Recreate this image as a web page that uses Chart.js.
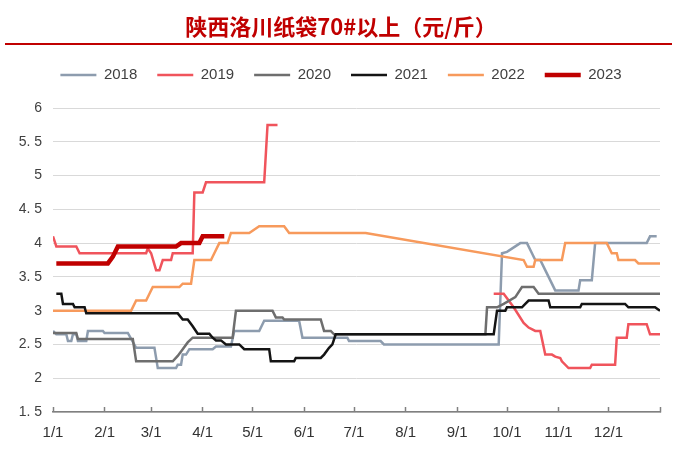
<!DOCTYPE html>
<html>
<head>
<meta charset="utf-8">
<script src="https://cdn.jsdelivr.net/npm/chart.js@4.4.0/dist/chart.umd.min.js"></script>
<style>
  html, body { margin: 0; padding: 0; background: #fff; }
</style>
</head>
<body>
<canvas id="priceChart" width="700" height="459"></canvas>
<script>
// x = day of year, y = 元/斤
const monthDays = [0, 31, 59, 90, 120, 151, 181, 212, 243, 273, 304, 334, 365];
const monthLabels = ["1/1", "2/1", "3/1", "4/1", "5/1", "6/1", "7/1", "8/1", "9/1", "10/1", "11/1", "12/1", ""];
const yTicks = [1.5, 2, 2.5, 3, 3.5, 4, 4.5, 5, 5.5, 6];

const days2018 = [0, 2, 8, 9, 11, 12, 14, 15, 20, 21, 30, 31, 45, 50, 61, 63, 74, 75, 77, 78, 80, 82, 96, 98, 107, 109, 124, 127, 148, 150, 177, 178, 197, 199, 268, 270, 273, 281, 285, 288, 290, 293, 296, 298, 302, 316, 317, 324, 326, 357, 359, 363];
const vals2018 = [2.7, 2.65, 2.65, 2.55, 2.55, 2.65, 2.65, 2.55, 2.55, 2.7, 2.7, 2.67, 2.67, 2.45, 2.45, 2.15, 2.15, 2.2, 2.2, 2.35, 2.35, 2.43, 2.43, 2.47, 2.47, 2.7, 2.7, 2.85, 2.85, 2.6, 2.6, 2.55, 2.55, 2.5, 2.5, 3.85, 3.87, 4.0, 4.0, 3.85, 3.75, 3.75, 3.6, 3.5, 3.3, 3.3, 3.45, 3.45, 4.0, 4.0, 4.1, 4.1];

const days2019 = [0, 2, 14, 16, 56, 57, 59, 62, 64, 66, 71, 72, 84, 85, 90, 92, 127, 129, 135, 200, 265, 271, 277, 283, 286, 290, 293, 296, 300, 302, 305, 306, 310, 323, 324, 338, 339, 345, 346, 357, 359, 365];
const vals2019 = [4.1, 3.95, 3.95, 3.85, 3.85, 3.92, 3.85, 3.6, 3.6, 3.75, 3.75, 3.85, 3.85, 4.75, 4.75, 4.9, 4.9, 5.75, 5.75, null, 3.25, 3.25, 3.05, 2.82, 2.75, 2.7, 2.7, 2.35, 2.35, 2.32, 2.3, 2.25, 2.15, 2.15, 2.2, 2.2, 2.6, 2.6, 2.8, 2.8, 2.65, 2.65];

const days2020 = [0, 14, 15, 48, 50, 72, 75, 78, 81, 84, 108, 110, 132, 134, 138, 139, 161, 163, 167, 169, 260, 261, 267, 271, 278, 282, 289, 292, 365];
const vals2020 = [2.67, 2.67, 2.58, 2.58, 2.25, 2.25, 2.33, 2.43, 2.53, 2.6, 2.6, 3.0, 3.0, 2.9, 2.9, 2.87, 2.87, 2.7, 2.7, 2.65, 2.65, 3.05, 3.05, 3.1, 3.2, 3.35, 3.35, 3.25, 3.25];

const days2021 = [2, 5, 6, 12, 13, 19, 20, 75, 78, 81, 84, 87, 94, 96, 98, 101, 104, 112, 115, 130, 131, 145, 146, 161, 163, 166, 168, 170, 265, 267, 272, 273, 282, 284, 286, 298, 299, 317, 318, 344, 346, 362, 365];
const vals2021 = [3.25, 3.25, 3.1, 3.1, 3.05, 3.05, 2.96, 2.96, 2.87, 2.87, 2.77, 2.66, 2.66, 2.6, 2.56, 2.56, 2.5, 2.5, 2.43, 2.43, 2.25, 2.25, 2.3, 2.3, 2.35, 2.45, 2.5, 2.65, 2.65, 3.0, 3.0, 3.05, 3.05, 3.1, 3.15, 3.15, 3.05, 3.05, 3.1, 3.1, 3.05, 3.05, 3.0];

const days2022 = [0, 47, 50, 56, 58, 60, 76, 78, 83, 85, 95, 97, 100, 105, 107, 118, 124, 139, 142, 188, 283, 285, 289, 290, 306, 308, 333, 336, 339, 340, 350, 352, 365];
const vals2022 = [3.0, 3.0, 3.15, 3.15, 3.25, 3.35, 3.35, 3.4, 3.4, 3.75, 3.75, 3.85, 4.0, 4.0, 4.15, 4.15, 4.25, 4.25, 4.15, 4.15, 3.75, 3.65, 3.65, 3.75, 3.75, 4.0, 4.0, 3.85, 3.85, 3.75, 3.75, 3.7, 3.7];

const days2023 = [2, 33, 36, 39, 74, 77, 88, 90, 103];
const vals2023 = [3.7, 3.7, 3.8, 3.95, 3.95, 4.0, 4.0, 4.1, 4.1];

function toPoints(days, vals) {
  return days.map((d, i) => ({ x: d, y: vals[i] }));
}

function line(label, days, vals, color, width, order) {
  return {
    label: label,
    data: toPoints(days, vals),
    borderColor: color,
    backgroundColor: color,
    borderWidth: width,
    pointRadius: 0,
    tension: 0,
    fill: false,
    spanGaps: false,
    order: order
  };
}

// red rule under the title
const titleRule = {
  id: "titleRule",
  afterDraw(chart) {
    const ctx = chart.ctx;
    ctx.save();
    ctx.strokeStyle = "#C00000";
    ctx.lineWidth = 2;
    ctx.beginPath();
    ctx.moveTo(5, 44);
    ctx.lineTo(672, 44);
    ctx.stroke();
    ctx.restore();
  }
};

// legend block reaches down to the top of the plot
const legendGap = {
  id: "legendGap",
  beforeInit(chart) {
    const fit = chart.legend.fit;
    chart.legend.fit = function () {
      fit.call(this);
      this.height = 60.6;
    };
  }
};

const tickFont = { family: "'Liberation Sans', Arial, sans-serif", size: 14 };

new Chart(document.getElementById("priceChart"), {
  type: "line",
  data: {
    datasets: [
      line("2018", days2018, vals2018, "#8D9CAE", 2.5, 5),
      line("2019", days2019, vals2019, "#F0545C", 2.5, 4),
      line("2020", days2020, vals2020, "#6E6E6E", 2.5, 3),
      line("2021", days2021, vals2021, "#141414", 2.5, 1),
      line("2022", days2022, vals2022, "#F79A5C", 2.5, 2),
      line("2023", days2023, vals2023, "#C00000", 4.5, 0)
    ]
  },
  options: {
    responsive: false,
    animation: false,
    layout: { padding: { left: 0, right: 18, top: 0, bottom: 0 } },
    plugins: {
      title: {
        display: true,
        text: "陕西洛川纸袋70#以上（元/斤）",
        color: "#C00000",
        font: { family: "'Noto Sans CJK SC', sans-serif", size: 22, weight: "bold" },
        padding: { top: 13, bottom: 8 }
      },
      legend: {
        position: "top",
        labels: {
          usePointStyle: true,
          pointStyle: "line",
          pointStyleWidth: 36,
          color: "#404040",
          font: { family: "'Liberation Sans', Arial, sans-serif", size: 15 },
          padding: 20,
          sort: (a, b) => a.datasetIndex - b.datasetIndex
        }
      },
      tooltip: { enabled: false }
    },
    scales: {
      x: {
        type: "linear",
        min: 0,
        max: 365,
        afterBuildTicks: (scale) => { scale.ticks = monthDays.map(v => ({ value: v })); },
        afterFit: (scale) => { scale.height = 47; },
        border: { color: "#808080", width: 1.5 },
        grid: { drawOnChartArea: false, drawTicks: true, tickLength: -5, tickColor: "#808080", tickWidth: 1.5 },
        ticks: {
          autoSkip: false,
          maxRotation: 0,
          padding: 17,
          color: "#333333",
          font: { family: "'Liberation Sans', Arial, sans-serif", size: 15 },
          callback: (v, i) => monthLabels[i]
        }
      },
      y: {
        min: 1.5,
        max: 6,
        afterBuildTicks: (scale) => { scale.ticks = yTicks.map(v => ({ value: v })); },
        afterFit: (scale) => { scale.width = 53; },
        border: { display: false },
        grid: { color: "#D9D9D9", lineWidth: 1, drawTicks: false },
        ticks: {
          padding: 11,
          color: "#404040",
          font: tickFont,
          callback: (v) => String(v).replace(".", ". ")
        }
      },
      // empty strip on the right so the plot ends where the reference does
      yRight: {
        position: "right",
        display: true,
        afterFit: (scale) => { scale.width = 22; },
        border: { display: false },
        grid: { display: false },
        ticks: { display: false }
      }
    }
  },
  plugins: [titleRule, legendGap]
});
</script>
</body>
</html>
